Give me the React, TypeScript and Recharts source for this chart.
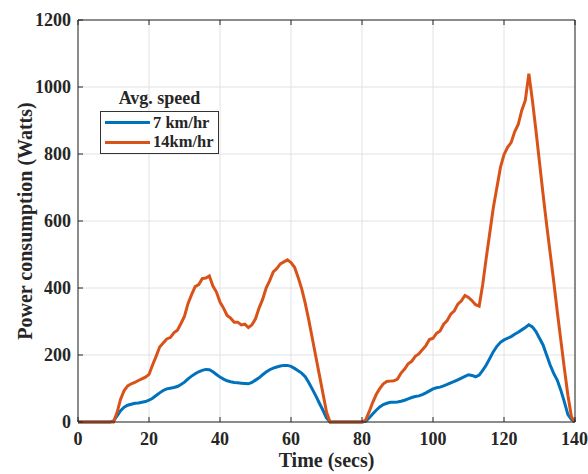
import { CartesianGrid, Line, LineChart, XAxis, YAxis } from 'recharts'

// Power draw per second, 0..140 s
const slowSpeed: number[] = [
  0, 0, 0, 0, 0, 0, 0, 0, 0, 0,
  3, 18, 34, 44, 50, 53, 56, 57, 59, 61,
  65, 71, 79, 87, 94, 99, 101, 103, 106, 112,
  119, 129, 137, 144, 150, 154, 157, 156, 150, 142,
  134, 128, 123, 120, 118, 117, 116, 115, 114, 118,
  125, 132, 141, 149, 156, 161, 164, 167, 169, 169,
  166, 160, 153, 146, 135, 118, 98, 78, 56, 35,
  12, 0, 0, 0, 0, 0, 0, 0, 0, 0,
  0, 2, 12, 24, 35, 45, 52, 56, 59, 59,
  60, 62, 65, 69, 73, 76, 78, 82, 87, 93,
  99, 102, 104, 108, 112, 117, 121, 126, 131, 136,
  141, 139, 135, 140, 154, 170, 190, 210, 226, 238,
  245, 250, 255, 262, 268, 275, 282, 290, 284, 270,
  250, 230, 200, 170, 145, 125, 95, 60, 22, 8,
  0,
]

const fastSpeed: number[] = [
  0, 0, 0, 0, 0, 0, 0, 0, 0, 0,
  0, 28, 68, 94, 108, 114, 118, 124, 129, 134,
  142, 170, 196, 224, 236, 248, 252, 266, 274, 294,
  316, 354, 380, 404, 410, 428, 430, 436, 406, 388,
  358, 340, 318, 310, 298, 298, 290, 292, 282, 290,
  308, 340, 366, 400, 422, 448, 458, 472, 478, 484,
  476, 462, 432, 398, 355, 305, 250, 195, 140, 85,
  30, 0, 0, 0, 0, 0, 0, 0, 0, 0,
  0, 6, 30, 58, 82, 100, 114, 121, 122, 123,
  128, 146, 158, 174, 181, 196, 203, 216, 228, 246,
  250, 265, 272, 292, 303, 322, 332, 352, 362, 378,
  372, 362, 350, 346, 410, 490, 565, 640, 700, 760,
  798, 820, 834, 866, 888, 930, 960, 1040, 960, 870,
  775, 680, 590, 505, 420, 330, 245, 160, 80, 15,
  0,
]

const xTicks = [0, 20, 40, 60, 80, 100, 120, 140]
const yTicks = [0, 200, 400, 600, 800, 1000, 1200]

const series = [
  { key: 'slow', name: '7 km/hr', color: '#0072BD' },
  { key: 'fast', name: '14km/hr', color: '#D95319' },
]

const data = slowSpeed.map((v, i) => ({ t: i, slow: v, fast: fastSpeed[i] }))

const FONT = '"Liberation Serif", "Times New Roman", serif'
const INK = '#262626'
const tickStyle = { fontFamily: FONT, fontSize: 18, fontWeight: 700, fill: INK }

function SpeedLegend() {
  return (
    <div style={{ position: 'absolute', left: 100, top: 88, fontFamily: FONT, fontWeight: 700, color: INK }}>
      <div style={{ width: 119, textAlign: 'center', fontSize: 18, lineHeight: '20px' }}>Avg. speed</div>
      <div
        style={{
          marginTop: 3,
          width: 113,
          border: '1px solid #333',
          background: '#fff',
          padding: '1px 0 1px 4px',
        }}
      >
        {series.map((s) => (
          <div key={s.key} style={{ display: 'flex', alignItems: 'center', height: 19.5, fontSize: 16.5 }}>
            <span style={{ width: 45, height: 3, background: s.color, marginRight: 3 }} />
            <span>{s.name}</span>
          </div>
        ))}
      </div>
    </div>
  )
}

export default function App() {
  return (
    <div style={{ position: 'absolute', left: 0, top: 0, width: 588, height: 474, background: '#fff' }}>
      <LineChart width={588} height={474} data={data} margin={{ top: 19, right: 12, left: 18, bottom: 12 }}>
        <CartesianGrid stroke="#e2e2e2" strokeWidth={1} />
        <XAxis
          dataKey="t"
          type="number"
          domain={[0, 140]}
          ticks={xTicks}
          height={40}
          tick={tickStyle}
          tickSize={-5}
          tickMargin={15}
          stroke={INK}
          label={({ viewBox }: any) => (
            <text
              x={viewBox.x + viewBox.width / 2}
              y={viewBox.y + 45}
              textAnchor="middle"
              style={{ fontFamily: FONT, fontSize: 20, fontWeight: 700, fill: INK }}
            >
              Time (secs)
            </text>
          )}
        />
        <XAxis
          xAxisId="top"
          orientation="top"
          dataKey="t"
          type="number"
          domain={[0, 140]}
          ticks={xTicks}
          height={1}
          tickSize={-5}
          tickFormatter={() => ''}
          stroke={INK}
        />
        <YAxis
          domain={[0, 1200]}
          ticks={yTicks}
          width={60}
          tick={tickStyle}
          tickSize={-5}
          tickMargin={12}
          stroke={INK}
          label={({ viewBox }: any) => (
            <text
              x={32}
              y={viewBox.y + viewBox.height / 2}
              transform={`rotate(-90, 32, ${viewBox.y + viewBox.height / 2})`}
              textAnchor="middle"
              style={{ fontFamily: FONT, fontSize: 20, fontWeight: 700, fill: INK }}
            >
              Power consumption (Watts)
            </text>
          )}
        />
        <YAxis
          yAxisId="right"
          orientation="right"
          domain={[0, 1200]}
          ticks={yTicks}
          width={1}
          tickSize={-5}
          tickFormatter={() => ''}
          stroke={INK}
        />
        {series.map((s) => (
          <Line
            key={s.key}
            dataKey={s.key}
            name={s.name}
            stroke={s.color}
            strokeWidth={3}
            dot={false}
            type="linear"
            isAnimationActive={false}
          />
        ))}
      </LineChart>
      <SpeedLegend />
    </div>
  )
}
